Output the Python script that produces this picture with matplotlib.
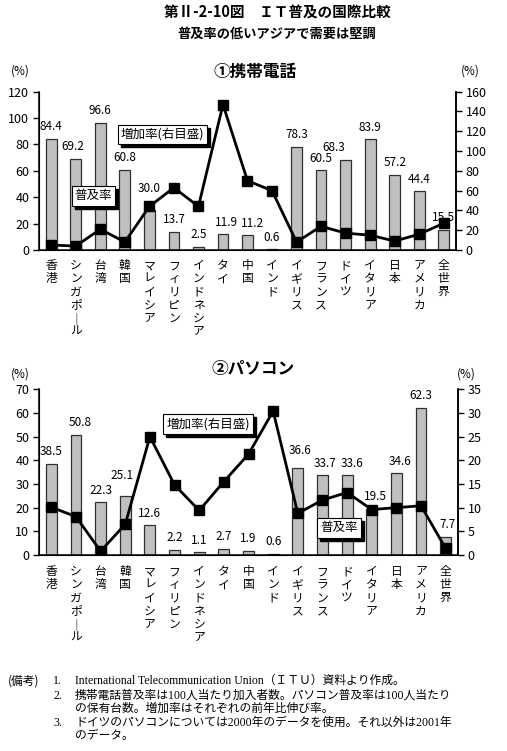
import matplotlib
matplotlib.use('Agg')
import matplotlib.pyplot as plt
from matplotlib.patches import Rectangle
from matplotlib.transforms import blended_transform_factory

plt.rcParams['font.family'] = ['Noto Sans CJK JP', 'DejaVu Sans']

# ---------------- data ----------------
categories = ['香港', 'シンガポール', '台湾', '韓国', 'マレイシア', 'フィリピン',
              'インドネシア', 'タイ', '中国', 'インド', 'イギリス', 'フランス',
              'ドイツ', 'イタリア', '日本', 'アメリカ', '全世界']
mobile_rate = [84.4, 69.2, 96.6, 60.8, 30.0, 13.7, 2.5, 11.9, 11.2, 0.6,
               78.3, 60.5, 68.3, 83.9, 57.2, 44.4, 15.5]
mobile_growth = [5, 4, 21, 8, 44, 63, 44, 147, 70, 60, 8, 24, 17, 15, 9, 16, 27]
pc_rate = [38.5, 50.8, 22.3, 25.1, 12.6, 2.2, 1.1, 2.7, 1.9, 0.6,
           36.6, 33.7, 33.6, 19.5, 34.6, 62.3, 7.7]
pc_growth = [10.1, 8.1, 0.8, 6.5, 25.0, 14.8, 9.4, 15.5, 21.3, 30.4,
             8.8, 11.6, 13.2, 9.6, 10.0, 10.4, 1.4]
mobile_left_ticks = [0, 20, 40, 60, 80, 100, 120]
mobile_right_ticks = [0, 20, 40, 60, 80, 100, 120, 140, 160]
pc_left_ticks = [0, 10, 20, 30, 40, 50, 60, 70]
pc_right_ticks = [0, 5, 10, 15, 20, 25, 30, 35]

title = '第Ⅱ-2-10図　ＩＴ普及の国際比較'
subtitle = '普及率の低いアジアで需要は堅調'
panel1_title = '①携帯電話'
panel2_title = '②パソコン'
growth_label = '増加率(右目盛)'
rate_label = '普及率'
notes_head = '(備考)'
notes_nums = ['1.', '2.', '', '3.', '']
notes_lines = ['International Telecommunication Union（ＩＴＵ）資料より作成。',
               '携帯電話普及率は100人当たり加入者数。パソコン普及率は100人当たり',
               'の保有台数。増加率はそれぞれの前年比伸び率。',
               'ドイツのパソコンについては2000年のデータを使用。それ以外は2001年',
               'のデータ。']

# label nudges (pixels) : index -> (dx, dy)
mobile_nudge = {1: (-3, 0), 4: (0, 10), 7: (3, 0), 8: (5, 0), 12: (-12, 0)}
pc_nudge = {1: (4, 0), 3: (-3, 8), 10: (2, 6), 11: (3, 0), 12: (5, 0),
            13: (4, 0), 14: (4, 0), 16: (2, 0)}

W, H = 507, 751
fig = plt.figure(figsize=(W / 100, H / 100), dpi=100)
PT = 0.72  # points per pixel at dpi 100


def fx(px):
    return px / W


def fy(py):
    return 1 - py / H


def make_panel(rect, rates, growth, lticks, rticks, nudge, label_gap):
    ax = fig.add_axes(rect)
    x = list(range(len(categories)))
    ax.bar(x, rates, width=0.44, color='#c0c0c0', edgecolor='#303030',
           linewidth=0.9, zorder=2)
    ax.set_xlim(-0.5, len(categories) - 0.5)
    ax.set_ylim(lticks[0], lticks[-1])
    ax.set_yticks(lticks)
    ax.set_xticks([])
    ax.spines['top'].set_visible(False)
    for s in ['left', 'right', 'bottom']:
        ax.spines[s].set_linewidth(1.1)
        ax.spines[s].set_color('black')
    ax.tick_params(axis='y', direction='out', length=4, width=1, labelsize=9, pad=3)
    for i, v in enumerate(rates):
        dx, dy = nudge.get(i, (0, 0))
        ax.annotate(f'{v:.1f}', xy=(i, v), xytext=(dx * PT, (12 + dy) * PT),
                    textcoords='offset points', ha='center', va='center',
                    fontsize=8.5, zorder=5)
    trans = blended_transform_factory(ax.transData, ax.transAxes)
    for i, name in enumerate(categories):
        s = '\n'.join('｜' if ch == 'ー' else ch for ch in name)
        ax.annotate(s, xy=(i, 0), xycoords=trans, xytext=(0, -label_gap * PT),
                    textcoords='offset points', ha='center', va='top',
                    fontsize=8.5, linespacing=1.02)
    ax2 = ax.twinx()
    ax2.plot(x, growth, color='black', linewidth=2.0, marker='s',
             markersize=6.5, markerfacecolor='black', zorder=4)
    ax2.set_ylim(rticks[0], rticks[-1])
    ax2.set_yticks(rticks)
    ax2.spines['top'].set_visible(False)
    ax2.spines['right'].set_linewidth(1.1)
    ax2.tick_params(axis='y', direction='out', length=4, width=1, labelsize=9, pad=3)
    return ax, ax2


make_panel([fx(39), fy(250), fx(456) - fx(39), fy(91.7) - fy(250)],
           mobile_rate, mobile_growth, mobile_left_ticks, mobile_right_ticks,
           mobile_nudge, 9)
make_panel([fx(39), fy(555), fx(458) - fx(39), fy(389.3) - fy(555)],
           pc_rate, pc_growth, pc_left_ticks, pc_right_ticks,
           pc_nudge, 10)

callouts = []


def callout(cx, cy, text):
    t = fig.text(fx(cx), fy(cy), text, ha='center', va='center', fontsize=9,
                 color='black', zorder=11,
                 bbox=dict(boxstyle='square,pad=0.25', fc='white', ec='black', lw=0.8))
    callouts.append(t)


callout(162.5, 134.5, growth_label)
callout(93.5, 196, rate_label)
callout(208, 424, growth_label)
callout(339, 528, rate_label)

# titles
fig.text(fx(277), fy(13), title, ha='center', va='center', fontsize=10.5, weight='bold')
fig.text(fx(277), fy(34), subtitle, ha='center', va='center', fontsize=9.5, weight='bold')
fig.text(fx(255), fy(72), panel1_title, ha='center', va='center', fontsize=12, weight='bold')
fig.text(fx(253), fy(369), panel2_title, ha='center', va='center', fontsize=12, weight='bold')
for (px, py) in [(20, 71), (470, 71), (20, 374), (466, 374)]:
    fig.text(fx(px), fy(py), '(%)', ha='center', va='center', fontsize=8.5)

# notes
note_font = ['Liberation Serif', 'Noto Sans CJK JP']
ys = [681, 696, 709, 723, 736]
fig.text(fx(8), fy(ys[0]), notes_head, ha='left', va='center', fontsize=8.5,
         family=['Noto Sans CJK JP'])
for y, n, t in zip(ys, notes_nums, notes_lines):
    if n:
        fig.text(fx(53), fy(y), n, ha='left', va='center', fontsize=8.5, family=note_font)
    fig.text(fx(75), fy(y), t, ha='left', va='center', fontsize=8.5, family=note_font)

# drop shadows behind callout boxes
fig.canvas.draw()
for t in callouts:
    bb = t.get_bbox_patch().get_window_extent()
    off = 3
    r = Rectangle(((bb.x0 + off) / W, (bb.y0 - off) / H), bb.width / W, bb.height / H,
                  transform=fig.transFigure, facecolor='black', edgecolor='black',
                  zorder=10)
    fig.add_artist(r)

fig.savefig('out.png', dpi=100)
